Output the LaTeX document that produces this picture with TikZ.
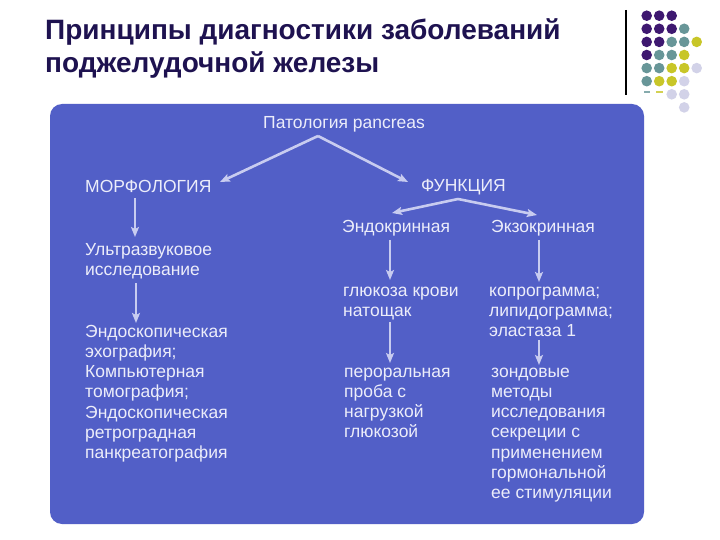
\documentclass[tikz,border=0pt]{standalone}
\usepackage{fontspec}
\setmainfont{Liberation Sans}
\usetikzlibrary{arrows.meta}
\definecolor{boxblue}{RGB}{82,95,199}
\definecolor{txtcol}{RGB}{236,237,250}
\definecolor{arrcol}{RGB}{200,204,240}
\definecolor{titlecol}{RGB}{30,18,80}
\definecolor{dP}{RGB}{62,24,112}
\definecolor{dT}{RGB}{104,150,152}
\definecolor{dY}{RGB}{200,198,40}
\definecolor{dL}{RGB}{210,210,232}
\newcommand{\bodyfont}{\fontsize{17.5}{20.3}\selectfont}
\begin{document}
\begin{tikzpicture}[x=1pt,y=-1pt,
  txt/.style={font=\bodyfont, text=txtcol, inner sep=0pt, anchor=base west},
  arr/.style={draw=arrcol, line width=2.6pt, -{Stealth[length=10pt,width=8pt,inset=2pt]}},
  dot/.style={circle, inner sep=0pt, minimum size=10.6pt}]
\useasboundingbox (0,0) rectangle (720,540);
\fill[white] (0,0) rectangle (720,540);

% title
\node[inner sep=0pt, anchor=base west, text=titlecol,
      font={\fontsize{28}{33}\selectfont\bfseries}] (title) at (45,39.5)
  {\vtop{\hbox{Принципы диагностики заболеваний}\hbox{поджелудочной железы}}};

% decoration: vertical line and dots
\coordinate (vtop) at (626,10);
\coordinate (vbot) at (626,95);
\draw[black, line width=1.3pt] (vtop) -- (vbot);
\foreach \c/\r/\col in {1/1/dP,2/1/dP,3/1/dP,
  1/2/dP,2/2/dP,3/2/dP,4/2/dT,
  1/3/dP,2/3/dP,3/3/dT,4/3/dT,5/3/dY,
  1/4/dP,2/4/dT,3/4/dT,4/4/dY,
  1/5/dT,2/5/dT,3/5/dY,4/5/dY,5/5/dL,
  1/6/dT,2/6/dY,3/6/dY,4/6/dL,
  3/7/dL,4/7/dL,
  4/8/dL}
  \node[dot, fill=\col] (d\c\r) at ({646.7+12.5*(\c-1)},{15.7+13.1*(\r-1)}) {};
\fill[dT!80!white] (643.5,91.3) rectangle (650,93.3);
\fill[dY!80!white] (656,91.3) rectangle (662.5,93.3);

% blue panel
\fill[boxblue, rounded corners=12pt] (50,104) rectangle (644,524);

% texts
\node[txt] (pat) at (263,129) {Патология pancreas};
\node[txt] (morph) at (85,193) {МОРФОЛОГИЯ};
\node[txt] (func) at (421,192) {ФУНКЦИЯ};
\node[txt] (endo) at (342,233) {Эндокринная};
\node[txt] (exo) at (491,233) {Экзокринная};
\node[txt] (us) at (85,255) {\vtop{\hbox{Ультразвуковое}\hbox{исследование}}};
\node[txt] (ml) at (85,337) {\vtop{\hbox{Эндоскопическая}\hbox{эхография;}\hbox{Компьютерная}\hbox{томография;}\hbox{Эндоскопическая}\hbox{ретроградная}\hbox{панкреатография}}};
\node[txt] (gluc) at (343,296) {\vtop{\hbox{глюкоза крови}\hbox{натощак}}};
\node[txt] (copro) at (489,296) {\vtop{\hbox{копрограмма;}\hbox{липидограмма;}\hbox{эластаза 1}}};
\node[txt] (peroral) at (344,377) {\vtop{\hbox{пероральная}\hbox{проба с}\hbox{нагрузкой}\hbox{глюкозой}}};
\node[txt] (zond) at (491,377) {\vtop{\hbox{зондовые}\hbox{методы}\hbox{исследования}\hbox{секреции с}\hbox{применением}\hbox{гормональной}\hbox{ее стимуляции}}};

% connectors
\draw[arr] ([shift={(55,7)}]pat.base west) -- ([shift={(135,-11)}]morph.base west);
\draw[arr] ([shift={(55,7)}]pat.base west) -- ([shift={(-13,-10)}]func.base west);
\draw[arr] ([shift={(37,7)}]func.base west) -- ([shift={(50,-20)}]endo.base west);
\draw[arr] ([shift={(37,7)}]func.base west) -- ([shift={(46,-18)}]exo.base west);
\draw[arr] ([shift={(50,5)}]morph.base west) -- ([shift={(50,-18)}]us.base west);
\draw[arr] ([shift={(51,28)}]us.base west) -- ([shift={(51,-14)}]ml.base west);
\draw[arr] ([shift={(48,7)}]endo.base west) -- ([shift={(47,-16)}]gluc.base west);
\draw[arr] ([shift={(48,7)}]exo.base west) -- ([shift={(50,-14)}]copro.base west);
\draw[arr] ([shift={(47,26)}]gluc.base west) -- ([shift={(46,-14)}]peroral.base west);
\draw[arr] ([shift={(50,44)}]copro.base west) -- ([shift={(48,-12)}]zond.base west);
\end{tikzpicture}
\end{document}
